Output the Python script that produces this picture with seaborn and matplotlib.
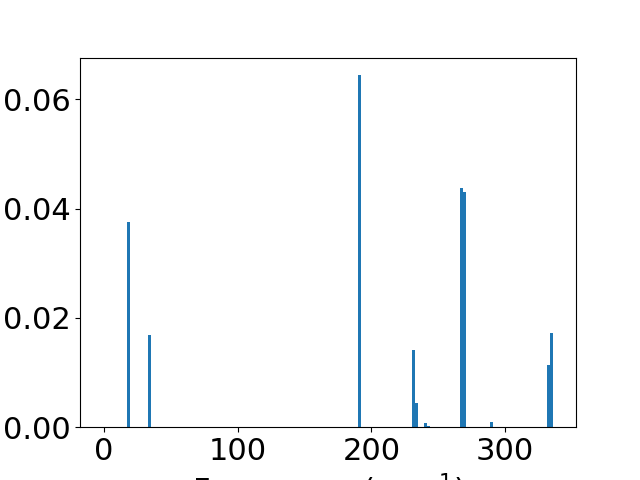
import numpy as np
import seaborn as sns
import matplotlib.pyplot as plt

# mode frequencies (cm^-1) and their weights
freqs = [17.8, 33.9, 191.2, 231.6, 233.9, 240.6, 242.9, 267.6, 269.9, 290.1, 332.9, 335.1]
weights = [0.0375, 0.0168, 0.0644, 0.0141, 0.0044, 0.0008, 0.0002, 0.0437, 0.0430, 0.0009, 0.0113, 0.0172]

plt.rcParams['font.size'] = 22

fig, ax = plt.subplots(figsize=(6.4, 4.8), dpi=100)
sns.histplot(x=freqs, weights=weights, bins=150, binrange=(-1.1, 336.2),
             color='#1f77b4', alpha=1, linewidth=0, ax=ax)
ax.set_ylabel('')
ax.set_xlabel('Frequency (cm$^{-1}$)')
ax.set_xticks([0, 100, 200, 300])
fig.savefig('out.png', dpi=100)
